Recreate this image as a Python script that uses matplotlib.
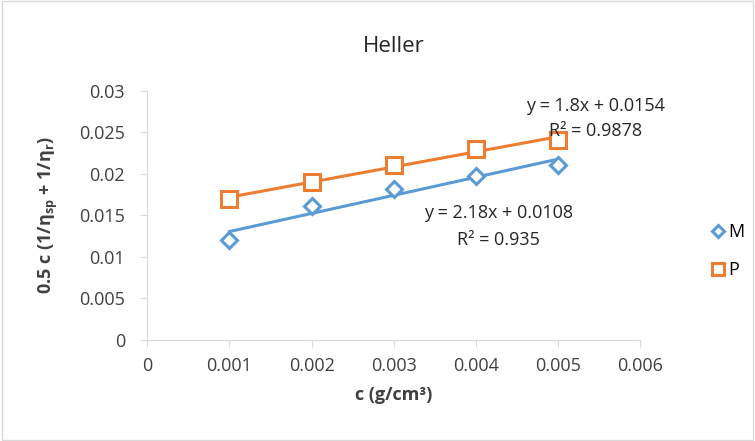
import matplotlib
matplotlib.use("Agg")
import matplotlib.pyplot as plt
import numpy as np

x_vals = [0.001, 0.002, 0.003, 0.004, 0.005]
m_vals = [0.0120, 0.0161, 0.0182, 0.0197, 0.0211]
p_vals = [0.0170, 0.0190, 0.0211, 0.0230, 0.0241]
x_ticks = [0, 0.001, 0.002, 0.003, 0.004, 0.005, 0.006]
y_ticks = [0, 0.005, 0.01, 0.015, 0.02, 0.025, 0.03]
m_eq = ["y = 2.18x + 0.0108", "R² = 0.935"]
p_eq = ["y = 1.8x + 0.0154", "R² = 0.9878"]

blue = "#5B9BD5"
orange = "#ED7D31"
plt.rcParams['font.family'] = ['Open Sans', 'DejaVu Sans']
FS = 13

fig = plt.figure(figsize=(7.55, 4.41), dpi=100)
ax = fig.add_axes([0.195, 0.229, 0.653, 0.565])

xs = np.array(x_vals)
for vals, col, mk, ms, lab in [(m_vals, blue, 'D', 8, 'M'), (p_vals, orange, 's', 11, 'P')]:
    k, b = np.polyfit(xs, np.array(vals), 1)
    ax.plot([xs[0], xs[-1]], [k*xs[0]+b, k*xs[-1]+b], color=col, lw=2.2, zorder=2)
    ax.plot(xs, vals, linestyle='none', marker=mk, ms=ms, mfc='white', mec=col,
            mew=2.2, label=lab, zorder=3)

ax.set_xlim(0, 0.006)
ax.set_ylim(0, 0.03)
ax.set_xticks(x_ticks)
ax.set_xticklabels(["0" if v == 0 else f"{v:g}" for v in x_ticks])
ax.set_yticks(y_ticks)
ax.set_yticklabels(["0" if v == 0 else f"{v:g}" for v in y_ticks])
for s in ['top', 'right']:
    ax.spines[s].set_visible(False)
for s in ['left', 'bottom']:
    ax.spines[s].set_color('#D9D9D9')
ax.tick_params(axis='both', colors='#D9D9D9', labelcolor='#404040', labelsize=FS, length=5)
ax.tick_params(axis='x', pad=7)
ax.tick_params(axis='y', pad=11)

ax.set_title("Heller", fontsize=16, color='#262626', pad=28)
ax.set_xlabel("c (g/cm³)", fontsize=FS, fontweight='bold', color='#404040', labelpad=8)
ax.set_ylabel(r"0.5 c (1/$\mathregular{\eta_{sp}}$ + 1/$\mathregular{\eta_r}$)", fontsize=FS,
              fontweight='bold', color='#404040', labelpad=14)

ax.text(0.00545, 0.0282, p_eq[0], fontsize=FS, ha='center', va='center', color='#262626')
ax.text(0.00546, 0.0252, p_eq[1], fontsize=FS, ha='center', va='center', color='#262626')
ax.text(0.00427, 0.0153, m_eq[0], fontsize=FS, ha='center', va='center', color='#262626')
ax.text(0.00427, 0.0121, m_eq[1], fontsize=FS, ha='center', va='center', color='#262626')

leg = fig.legend(loc='center left', bbox_to_anchor=(0.918, 0.43), frameon=False,
                 fontsize=FS, handletextpad=0.05, labelspacing=1.1, handlelength=1.0,
                 markerscale=0.8)

fig.patches.append(plt.Rectangle((0.002, 0.003), 0.996, 0.994, transform=fig.transFigure,
                                 fill=False, edgecolor='#D9D9D9', lw=1))
fig.savefig("out.png", dpi=100)
